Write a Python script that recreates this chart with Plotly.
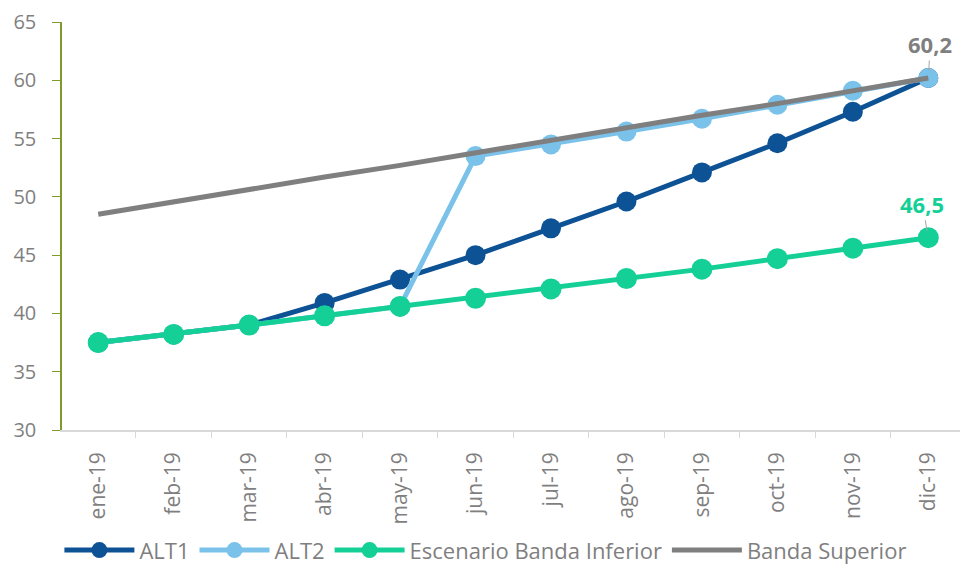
import plotly.graph_objects as go

months = ["ene-19", "feb-19", "mar-19", "abr-19", "may-19", "jun-19",
          "jul-19", "ago-19", "sep-19", "oct-19", "nov-19", "dic-19"]
alt1 = [37.5, 38.2, 39.0, 40.9, 42.9, 45.0, 47.3, 49.6, 52.1, 54.6, 57.3, 60.2]
alt2 = [37.5, 38.2, 39.0, 39.8, 40.6, 53.5, 54.5, 55.6, 56.7, 57.9, 59.1, 60.2]
banda_inferior = [37.5, 38.2, 39.0, 39.8, 40.6, 41.3, 42.1, 43.0, 43.8, 44.7, 45.6, 46.5]
banda_superior = [48.5, 49.6, 50.6, 51.7, 52.7, 53.8, 54.8, 55.9, 57.0, 58.0, 59.1, 60.2]
y_ticks = [30, 35, 40, 45, 50, 55, 60, 65]

C_ALT1 = "#0D5294"
C_ALT2 = "#7AC2EA"
C_INF = "#14CF96"
C_SUP = "#7F7F7F"
FONT = "Open Sans"

fig = go.Figure()
fig.add_trace(go.Scatter(x=months, y=alt1, name="ALT1", mode="lines+markers",
                         line=dict(color=C_ALT1, width=5),
                         marker=dict(color=C_ALT1, size=20)))
fig.add_trace(go.Scatter(x=months, y=alt2, name="ALT2", mode="lines+markers",
                         line=dict(color=C_ALT2, width=5),
                         marker=dict(color=C_ALT2, size=20)))
fig.add_trace(go.Scatter(x=months, y=banda_inferior, name="Escenario Banda Inferior",
                         mode="lines+markers",
                         line=dict(color=C_INF, width=5),
                         marker=dict(color=C_INF, size=21)))
fig.add_trace(go.Scatter(x=months, y=banda_superior, name="Banda Superior", mode="lines",
                         line=dict(color=C_SUP, width=5)))

fig.add_annotation(x=months[-1], y=banda_superior[-1], text="<b>60,2</b>",
                   showarrow=True, arrowhead=0, arrowwidth=1, arrowcolor="#A6A6A6",
                   ax=2, ay=-34, standoff=7,
                   font=dict(family=FONT, size=22, color=C_SUP))
fig.add_annotation(x=months[-1], y=banda_inferior[-1], text="<b>46,5</b>",
                   showarrow=True, arrowhead=0, arrowwidth=1, arrowcolor="#A6A6A6",
                   ax=-6, ay=-34, standoff=7,
                   font=dict(family=FONT, size=22, color=C_INF))

fig.update_layout(
    width=960, height=565,
    margin=dict(l=62, r=0, t=22, b=135, autoexpand=False),
    paper_bgcolor="white", plot_bgcolor="white",
    font=dict(family=FONT, color="#7F7F7F"),
    showlegend=True,
    legend=dict(orientation="h", x=0.4715, xanchor="center",
                yref="container", y=0.026, yanchor="middle",
                font=dict(family=FONT, size=22, color="#7F7F7F"),
                itemwidth=70, tracegroupgap=0),
    xaxis=dict(type="category", categoryorder="array", categoryarray=months,
               range=[-0.48, 11.42], showgrid=False, automargin=False,
               showline=True, linecolor="#D9D9D9", linewidth=1.5,
               ticks="outside", tickson="boundaries", ticklen=6, tickcolor="#D9D9D9",
               tickangle=-90, ticklabelstandoff=12,
               tickfont=dict(family=FONT, size=21, color="#7F7F7F")),
    yaxis=dict(range=[30, 65], tickvals=y_ticks, showgrid=False, zeroline=False,
               automargin=False,
               showline=True, linecolor="#7F9A2E", linewidth=1.5,
               ticks="outside", ticklen=8, tickcolor="#7F9A2E",
               ticklabelstandoff=12,
               tickfont=dict(family=FONT, size=20, color="#7F7F7F")),
)

fig.write_html("out.html")
